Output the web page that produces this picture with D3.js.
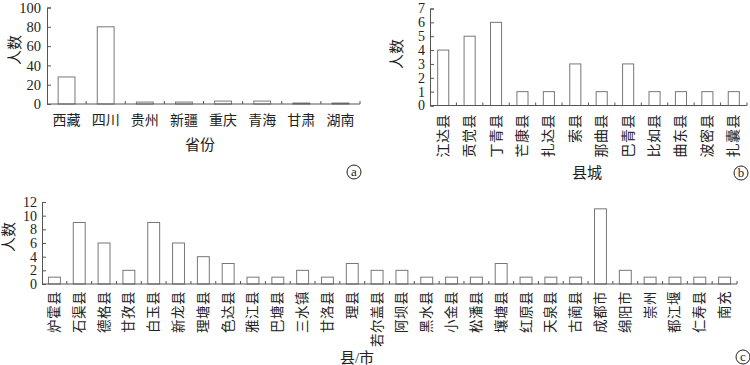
<!DOCTYPE html>
<html><head><meta charset="utf-8">
<script src="https://cdn.jsdelivr.net/npm/d3@7"></script>
<style>
body{margin:0;background:#fff;}
svg{display:block;}
text{font-family:"Liberation Serif","Noto Sans CJK SC",serif;fill:#222;}
</style></head><body>
<svg id="c" width="750" height="365"></svg>
<script>
// Panel (a): by province
const provinces = ["西藏","四川","贵州","新疆","重庆","青海","甘肃","湖南"];
const provinceValues = [28,80,2,2,3,3,1,1];
const provinceTicks = [0,20,40,60,80,100];

// Panel (b): counties (Tibet)
const counties = ["江达县","贡觉县","丁青县","芒康县","扎达县","索县","那曲县","巴青县","比如县","曲东县","波密县","扎囊县"];
const countyValues = [4,5,6,1,1,3,1,3,1,1,1,1];
const countyTicks = [0,1,2,3,4,5,6,7];

// Panel (c): counties / cities (Sichuan etc.)
const cities = ["炉霍县","石渠县","德格县","甘孜县","白玉县","新龙县","理塘县","色达县","雅江县","巴塘县","三水镇","甘洛县","理县","若尔盖县","阿坝县","黑水县","小金县","松潘县","壤塘县","红原县","天泉县","古蔺县","成都市","绵阳市","崇州","都江堰","仁寿县","南充"];
const cityValues = [1,9,6,2,9,6,4,3,1,1,2,1,3,2,2,1,1,1,3,1,1,1,11,2,1,1,1,1];
const cityTicks = [0,2,4,6,8,10,12];

const svg = d3.select("#c");
const axisColor = "#555";

function panel(o){
  const g = svg.append("g");
  const x = d3.scaleBand().domain(o.cats).range([o.x0,o.x1]);
  const y = d3.scaleLinear().domain([0,o.ymax]).range([o.y0,o.y1]);
  // bars
  g.selectAll("rect.bar").data(o.vals).enter().append("rect")
    .attr("x",(d,i)=>x(o.cats[i])+x.bandwidth()*(1-o.bw)/2)
    .attr("width",x.bandwidth()*o.bw)
    .attr("y",d=>y(d)).attr("height",d=>y(0)-y(d))
    .attr("fill","#fff").attr("stroke","#777").attr("stroke-width",1);
  // y axis
  const ya = d3.axisLeft(y).tickValues(o.ticks).tickSize(-4).tickPadding(o.tpad).tickFormat(d3.format("d"));
  const yg = g.append("g").attr("transform",`translate(${o.x0},0)`).call(ya);
  yg.select(".domain").attr("stroke",axisColor);
  yg.selectAll(".tick line").attr("stroke",axisColor);
  yg.selectAll(".tick text").style("font-size",o.tfs+"px").attr("fill","#222")
    .style("font-family","'Liberation Serif',serif");
  // x axis line and boundary ticks
  g.append("line").attr("x1",o.x0).attr("x2",o.x1).attr("y1",o.y0).attr("y2",o.y0).attr("stroke",axisColor);
  const bounds = o.cats.map(c=>x(c)+x.bandwidth());
  g.selectAll("line.bt").data(bounds).enter().append("line")
    .attr("x1",d=>d).attr("x2",d=>d).attr("y1",o.y0).attr("y2",o.y0-3).attr("stroke",axisColor);
  // y title
  g.append("text").attr("transform",`translate(${o.ytx},${o.yty}) rotate(-90)`)
    .attr("text-anchor","middle").attr("dominant-baseline","central")
    .style("font-size","15px").text("人数");
  // x title
  g.append("text").attr("x",o.xtx).attr("y",o.xty).attr("text-anchor","middle")
    .attr("dominant-baseline","central").style("font-size","15px").text(o.xtitle);
  // circle label
  g.append("circle").attr("cx",o.lx).attr("cy",o.ly).attr("r",7).attr("fill","none").attr("stroke","#222");
  g.append("text").attr("x",o.lx).attr("y",o.ly-1).attr("text-anchor","middle").attr("dominant-baseline","central")
    .style("font-size","13px").text(o.letter);
  return {g,x,y};
}

function rotatedLabels(p, cats, top, fs){
  p.g.selectAll("text.cat").data(cats).enter().append("text")
    .attr("transform",d=>`translate(${p.x(d)+p.x.bandwidth()/2},${top}) rotate(-90)`)
    .attr("text-anchor","end").attr("dominant-baseline","central")
    .style("font-size",fs+"px").style("letter-spacing","0.5px").text(d=>d);
}

// (a)
const pa = panel({cats:provinces,vals:provinceValues,ticks:provinceTicks,ymax:100,x0:47,x1:360,y0:104,y1:7.5,bw:0.43,
  tfs:14.5,tpad:6,ytx:15,yty:50,xtitle:"省份",xtx:200,xty:145,lx:354,ly:172,letter:"a"});
pa.g.selectAll("text.cat").data(provinces).enter().append("text")
  .attr("x",d=>pa.x(d)+pa.x.bandwidth()/2).attr("y",120).attr("text-anchor","middle")
  .attr("dominant-baseline","central").style("font-size","14px").text(d=>d);

// (b)
const pb = panel({cats:counties,vals:countyValues,ticks:countyTicks,ymax:7,x0:430,x1:747,y0:105.5,y1:8.5,bw:0.42,
  tfs:14,tpad:5,ytx:397,yty:54,xtitle:"县城",xtx:587,xty:173,lx:741,ly:173,letter:"b"});
rotatedLabels(pb, counties, 114, 14);

// (c)
const pc = panel({cats:cities,vals:cityValues,ticks:cityTicks,ymax:12,x0:42,x1:737,y0:284,y1:202,bw:0.48,
  tfs:14,tpad:5,ytx:9,yty:237,xtitle:"县/市",xtx:357,xty:358,lx:743,ly:357,letter:"c"});
rotatedLabels(pc, cities, 291, 13.5);
</script>
</body></html>
